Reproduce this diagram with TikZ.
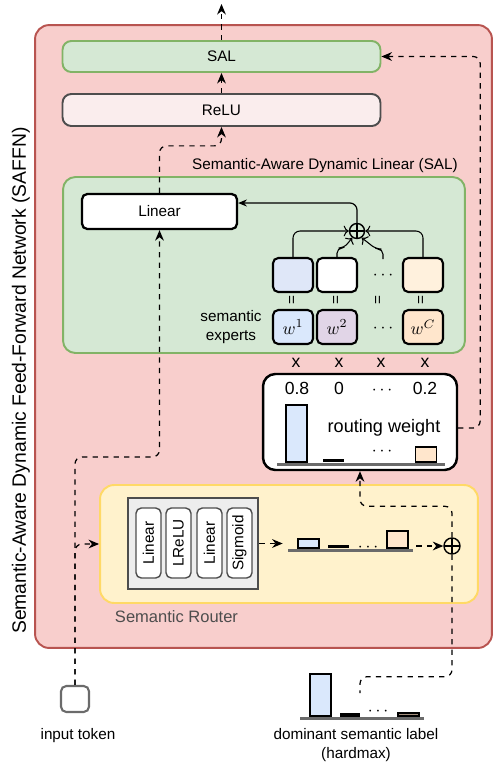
\documentclass[tikz,border=0pt]{standalone}
\usepackage{fontspec}
\setmainfont{Liberation Sans}
\usepackage{tikz}
\usetikzlibrary{arrows.meta,calc}

\definecolor{saffnfill}{HTML}{F8CECC}
\definecolor{saffnline}{HTML}{B85450}
\definecolor{salfill}{HTML}{D5E8D4}
\definecolor{salline}{HTML}{82B366}
\definecolor{routfill}{HTML}{FFF2CC}
\definecolor{routline}{HTML}{FFD966}
\definecolor{relufill}{HTML}{FAEDED}
\definecolor{greyline}{HTML}{4D4D4D}
\definecolor{baseline}{HTML}{6B6B6B}
\definecolor{expblue}{HTML}{DAE8FC}
\definecolor{expbluelt}{HTML}{DFE7F8}
\definecolor{exppurple}{HTML}{E1D5E7}
\definecolor{exporange}{HTML}{FFE6CC}
\definecolor{exporangelt}{HTML}{FFF1DD}
\definecolor{hardbar}{HTML}{A38E7C}

\tikzset{
  txt/.style={font=\fontsize{8.7}{10.3}\selectfont},
  bigtxt/.style={font=\fontsize{10}{12}\selectfont},
  block/.style={draw, rounded corners=5pt, inner sep=0pt, line width=1.1pt, txt},
  expert/.style={draw, rounded corners=3pt, inner sep=0pt, line width=1.2pt,
    minimum width=0.8cm, minimum height=0.68cm, font=\fontsize{10}{12}\selectfont},
  layerbox/.style={draw=greyline, fill=white, rounded corners=3pt, line width=0.8pt,
    inner sep=0pt, minimum width=1.4cm, minimum height=0.5cm, rotate=90, txt},
  bar/.style={draw, line width=1pt, inner sep=0pt, anchor=south, minimum width=0.42cm},
  flatbar/.style={fill=black, inner sep=0pt, anchor=south, minimum width=0.42cm, minimum height=0.07cm},
  axis/.style={fill=baseline, inner sep=0pt, minimum height=0.06cm},
  dflow/.style={dashed, line width=0.7pt, rounded corners=4pt},
  dtip/.style={-{Stealth[length=6pt,width=5pt]}},
  oplus/.style={circle, draw, line width=0.8pt, inner sep=0pt,
    path picture={\draw[line width=0.8pt] (path picture bounding box.north) -- (path picture bounding box.south)
      (path picture bounding box.west) -- (path picture bounding box.east);}},
}

\begin{document}
\begin{tikzpicture}[x=0.02cm, y=-0.02cm]
      \useasboundingbox (0,0) rectangle (494,765);
      % outer SAFFN block
      \node[draw=saffnline, fill=saffnfill, line width=1.1pt, rounded corners=8pt,
        minimum width=9.14cm, minimum height=12.46cm, inner sep=0pt] (saffn) at (263.5,336.5) {};
      \node[rotate=90, anchor=base west, font=\fontsize{11}{13}\selectfont] (title) at (26,640)
        {Semantic-Aware Dynamic Feed-Forward Network (SAFFN)};

      % top layers
      \node[block, draw=salline, fill=salfill, minimum width=6.36cm, minimum height=0.62cm] (sal) at (221.5,56.5) {SAL};
      \node[block, draw=greyline, fill=relufill, minimum width=6.36cm, minimum height=0.64cm] (relu) at (221.5,110) {ReLU};
      \coordinate (out) at (221.5,4);

      % SAL block
      \node[txt] (saltitle) at (325,166) {Semantic-Aware Dynamic Linear (SAL)};
      \node[draw=salline, fill=salfill, line width=1.1pt, rounded corners=7pt,
        minimum width=8.04cm, minimum height=3.52cm, inner sep=0pt] (salbox) at (264,265) {};
      \node[block, fill=white, line width=1.3pt, rounded corners=3pt, minimum width=3.1cm, minimum height=0.7cm] (lin) at (159.5,211.5) {Linear};
      \node[oplus, minimum size=0.3cm] (sp) at (357,231) {};
      \node[expert, fill=expbluelt] (t1) at (293,275) {};
      \node[expert, fill=white] (t2) at (337,275) {};
      \node[bigtxt] (tdots) at (383,276) {$\cdots$};
      \node[expert, fill=exporangelt] (t4) at (423,275) {};
      \coordinate (tdtop) at (383,259);
      \node[expert, fill=expblue] (w1) at (293,327) {$w^1$};
      \node[expert, fill=exppurple] (w2) at (337,327) {$w^2$};
      \node[bigtxt] (wdots) at (383,329) {$\cdots$};
      \node[expert, fill=exporange] (w4) at (423,327) {$w^C$};
      \node[txt, rotate=90] (q1) at (293,300) {=};
      \node[txt, rotate=90] (q2) at (337,300) {=};
      \node[txt, rotate=90] (q3) at (379,300) {=};
      \node[txt, rotate=90] (q4) at (422,300) {=};
      \node[txt, align=center] (semexp) at (231,327) {semantic\\experts};
      \node[bigtxt] (x1) at (296,363) {x};
      \node[bigtxt] (x2) at (339,363) {x};
      \node[bigtxt] (x3) at (381,363) {x};
      \node[bigtxt] (x4) at (425,363) {x};

      \draw[line width=0.7pt, -{Stealth[length=5pt,width=4pt]}, rounded corners=4pt] (sp.north) |- ([yshift=0.17cm]lin.east);
      \draw[->, line width=0.6pt, rounded corners=4pt] (t1.north) |- (sp.west);
      \draw[->, line width=0.6pt, rounded corners=4pt] (t4.north) |- (sp.east);
      \draw[->, line width=0.6pt, rounded corners=3pt] (t2.north) -- ++(0,-9) -- ++(7,0) -- (sp.235);
      \draw[->, line width=0.6pt, rounded corners=3pt] (tdtop) -- ++(0,-10) -- ++(-7,0) -- (sp.305);

      % routing weight
      \node[draw, fill=white, line width=1.4pt, rounded corners=7pt,
        minimum width=3.88cm, minimum height=1.92cm, inner sep=0pt] (rw) at (360,422) {};
      \node[bigtxt] (r1) at (297,388) {0.8};
      \node[bigtxt] (r2) at (339,388) {0};
      \node[bigtxt] (r3) at (382,391) {$\cdots$};
      \node[bigtxt] (r4) at (425,388) {0.2};
      \node[font=\fontsize{10.3}{12}\selectfont] (rwlabel) at (384,428) {routing weight};
      \node[axis, minimum width=3.36cm] (rwaxis) at (361,464) {};
      \node[bar, fill=expblue, minimum height=1.14cm] (rb1) at (296.5,462.5) {};
      \node[flatbar] (rb2) at (333.5,462.5) {};
      \node[bigtxt] (rb3) at (382,452) {$\cdots$};
      \node[bar, fill=exporange, minimum height=0.3cm] (rb4) at (426,462.5) {};

      % semantic router
      \node[draw=routline, fill=routfill, line width=1.1pt, rounded corners=8pt,
        minimum width=7.56cm, minimum height=2.36cm, inner sep=0pt] (rout) at (289,544) {};
      \node[font=\fontsize{9.4}{11}\selectfont, text=greyline] (routlabel) at (176.5,617) {Semantic Router};
      \node[draw=greyline, fill=black!7, line width=1.6pt, minimum width=2.6cm, minimum height=1.82cm, inner sep=0pt] (gbox) at (193,543.5) {};
      \node[layerbox] (l1) at (148.5,543) {Linear};
      \node[layerbox] (l2) at (178.5,543) {LReLU};
      \node[layerbox] (l3) at (209.5,543) {Linear};
      \node[layerbox] (l4) at (239.5,543) {Sigmoid};
      \node[axis, minimum width=2.5cm] (mcaxis) at (350.5,550) {};
      \node[bar, fill=expblue, minimum height=0.17cm] (mb1) at (308.5,548.5) {};
      \node[flatbar] (mb2) at (338.5,548.5) {};
      \node[bigtxt] (mb3) at (368,548) {$\cdots$};
      \node[bar, fill=exporange, minimum height=0.33cm] (mb4) at (397.5,548.5) {};
      \node[oplus, minimum size=0.32cm] (rp) at (452,546) {};

      % input token and hardmax label
      \node[draw=baseline, fill=white, line width=1.2pt, rounded corners=3pt,
        minimum width=0.56cm, minimum height=0.52cm, inner sep=0pt] (tok) at (75,699) {};
      \node[txt] (toklabel) at (78,736) {input token};
      \node[axis, minimum width=2.48cm] (hmaxis) at (362,718.5) {};
      \node[bar, fill=expblue, minimum height=0.84cm] (hb1) at (320.5,717) {};
      \node[flatbar, minimum height=0.08cm] (hb2) at (350,717) {};
      \node[bigtxt] (hb3) at (378,712) {$\cdots$};
      \node[bar, fill=hardbar, minimum height=0.06cm] (hb4) at (408.5,717) {};
      \coordinate (hmtop) at (360,693);
      \node[txt, align=center] (hmlabel) at (356,745) {dominant semantic label\\(hardmax)};

      % dashed data flow
      \draw[dflow, dtip] (sal.north) -- (out);
      \draw[dflow, dtip] (relu.north) -- (sal.south);
      \draw[dflow, dtip] (lin.north) -- ++(0,-47) -| (relu.south);
      \draw[dflow, dtip] (tok.north) -- ++(0,-228) -| (lin.south);
      \draw[dflow, dtip] (tok.north) |- (rout.west);
      \draw[dflow, dtip] (gbox.east) -- ($(gbox.east -| mcaxis.west)+(-5,0)$);
      \draw[dflow, dtip] ($(rp.west -| mcaxis.east)+(3,0)$) -- (rp.west);
      \draw[dflow, dtip] (rp.north) -- ++(0,-31) -| (rw.south);
      \draw[dflow] (rp.south) -- ++(0,122) -| (hmtop);
      \draw[dflow, dtip] ([yshift=-0.12cm]rw.east) -- ++(22,0) |- (sal.east);
    \end{tikzpicture}
\end{document}
